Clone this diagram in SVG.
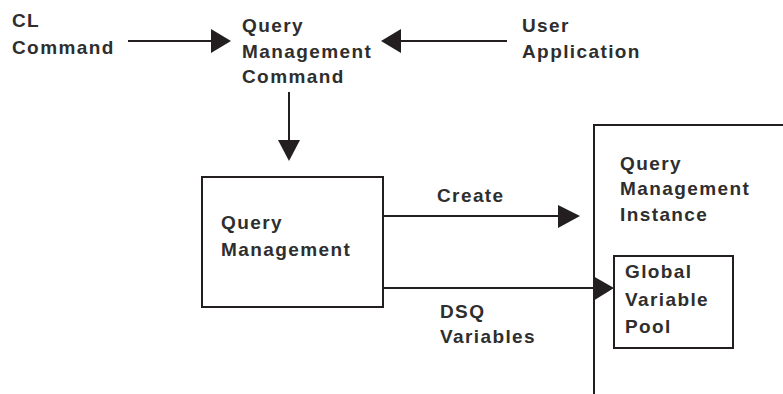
<svg xmlns="http://www.w3.org/2000/svg" width="783" height="394" viewBox="0 0 783 394">
<style>
text{font-family:"Liberation Sans",Arial,sans-serif;font-size:19px;font-weight:bold;letter-spacing:1.4px;fill:#2e2e2e}
.box{fill:none;stroke:#231f20;stroke-width:2}
.ln{stroke:#231f20;stroke-width:2;fill:none}
.hd{fill:#231f20}
</style>
<rect width="783" height="394" fill="#fff"/>
<g id="cl-command">
<text x="12" y="27">CL</text>
<text x="12" y="54">Command</text>
</g>
<g id="qm-command">
<text x="242" y="32">Query</text>
<text x="242" y="58">Management</text>
<text x="242" y="83">Command</text>
</g>
<g id="user-app">
<text x="522" y="32">User</text>
<text x="522" y="58">Application</text>
</g>
<g id="query-management">
<rect class="box" x="202" y="177" width="181" height="130"/>
<text x="221" y="229">Query</text>
<text x="221" y="256">Management</text>
</g>
<g id="qm-instance">
<path class="box" d="M594,394 V125 H783"/>
<text x="620" y="170">Query</text>
<text x="620" y="195">Management</text>
<text x="620" y="221">Instance</text>
</g>
<g id="global-pool">
<rect class="box" x="614" y="256" width="119" height="92"/>
<text x="625" y="278">Global</text>
<text x="625" y="306">Variable</text>
<text x="625" y="333">Pool</text>
</g>
<g id="connectors">
<line class="ln" x1="128" y1="41" x2="214" y2="41"/>
<polygon class="hd" points="231,41 211,29 211,53"/>
<line class="ln" x1="507" y1="41" x2="398" y2="41"/>
<polygon class="hd" points="381,41 401,29 401,53"/>
<line class="ln" x1="289" y1="92" x2="289" y2="142"/>
<polygon class="hd" points="289,161 278,140 300,140"/>
<line class="ln" x1="383" y1="216" x2="560" y2="216"/>
<polygon class="hd" points="580,216 558,205 558,228"/>
<line class="ln" x1="383" y1="288" x2="596" y2="288"/>
<polygon class="hd" points="614,288 593,276 593,301"/>
<text x="437" y="202">Create</text>
<text x="440" y="318">DSQ</text>
<text x="440" y="343">Variables</text>
</g>
</svg>
